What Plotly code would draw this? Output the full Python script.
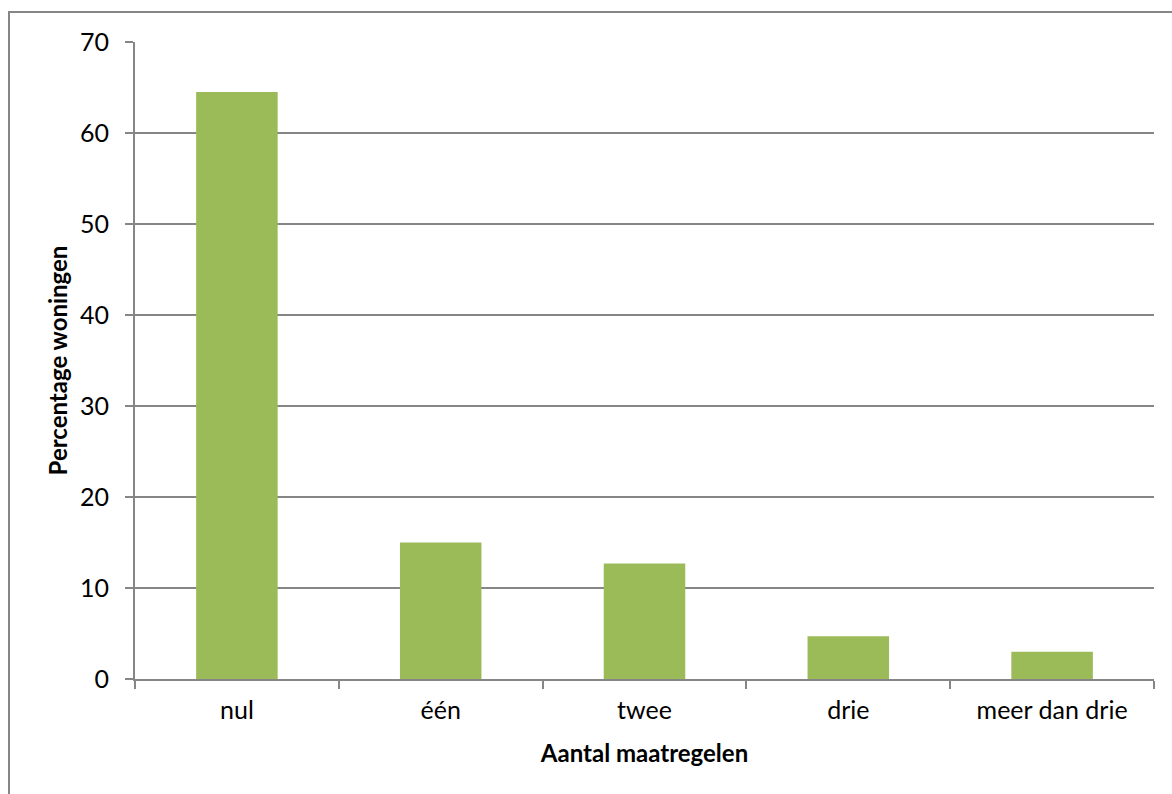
import plotly.graph_objects as go

categories = ["nul", "één", "twee", "drie", "meer dan drie"]
percentages = [64.5, 15.0, 12.7, 4.7, 3.0]
y_ticks = [0, 10, 20, 30, 40, 50, 60, 70]

W, H = 1172, 794
L, R, T, B = 135, 1154, 42, 679  # plot area in pixels

fig = go.Figure(
    go.Bar(
        x=categories,
        y=percentages,
        marker=dict(color="#9BBB59", line=dict(width=0)),
        width=0.4,
    )
)

font_family = "Lato, Open Sans, sans-serif"
grey = "#868686"

fig.update_layout(
    width=W,
    height=H,
    margin=dict(l=L, r=W - R, t=T, b=H - B),
    paper_bgcolor="white",
    plot_bgcolor="white",
    showlegend=False,
    font=dict(family=font_family, size=25, color="black"),
    xaxis=dict(
        type="category",
        range=[-0.5, 4.5],
        showline=True,
        linecolor=grey,
        linewidth=2,
        ticks="outside",
        tickson="boundaries",
        ticklen=8,
        tickcolor=grey,
        tickwidth=1.5,
        showgrid=False,
        tickfont=dict(size=25),
        ticklabelstandoff=8,
        title=dict(text="<b>Aantal maatregelen</b>", font=dict(size=24), standoff=22),
    ),
    yaxis=dict(
        range=[0, 70],
        tickvals=y_ticks,
        showline=True,
        linecolor=grey,
        linewidth=2,
        ticks="outside",
        ticklen=8,
        tickcolor=grey,
        tickwidth=1.5,
        showgrid=True,
        gridcolor=grey,
        gridwidth=1.5,
        zeroline=False,
        tickfont=dict(size=25),
        ticklabelstandoff=11,
        title=dict(text="<b>Percentage woningen</b>", font=dict(size=24), standoff=6),
    ),
)

# Outer chart frame, converted from pixel positions to paper coordinates
def px_x(p):
    return (p - L) / (R - L)

def px_y(p):
    return (B - p) / (B - T)

fig.add_shape(
    type="rect",
    xref="paper",
    yref="paper",
    x0=px_x(9),
    x1=px_x(W + 5),
    y0=px_y(H + 5),
    y1=px_y(12),
    line=dict(color=grey, width=2),
    fillcolor="rgba(0,0,0,0)",
    layer="below",
)

fig.write_html("out.html")
